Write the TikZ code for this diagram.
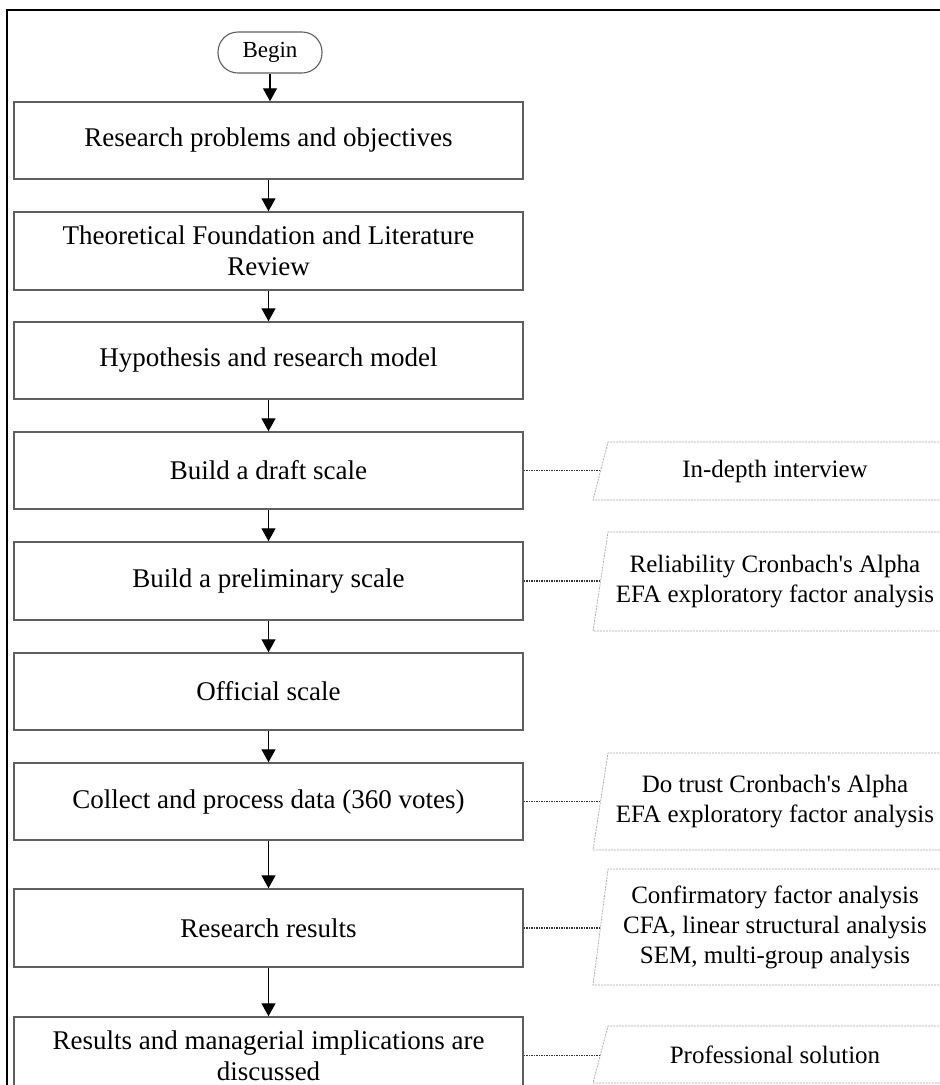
\documentclass[tikz,border=0pt]{standalone}
\usepackage{fontspec}
\setmainfont{Liberation Serif}
\newfontfamily\rawserif{Liberation Serif}
\usetikzlibrary{arrows.meta}
\definecolor{boxline}{RGB}{95,95,95}
\definecolor{paraline}{RGB}{170,170,170}
\definecolor{dotline}{RGB}{50,50,50}
\tikzset{
  stepbox/.style={draw=boxline, line width=1.5pt, minimum width=509pt, minimum height=77pt,
    inner sep=0pt, align=center, font=\fontsize{27}{31}\selectfont},
  flow/.style={draw=black, line width=1.4pt, -{Triangle[length=13pt,width=14pt]}},
  paratext/.style={inner sep=0pt, align=center, font=\rawserif\fontsize{25}{30}\selectfont},
  parashape/.style={draw=paraline, line width=0.7pt, dash pattern=on 2pt off 1pt},
  link/.style={draw=dotline, line width=1.5pt, dash pattern=on 1.5pt off 1pt},
}
\begin{document}
\begin{tikzpicture}[x=1pt,y=-1pt]
\useasboundingbox (0,0) rectangle (940,1085);
% outer frame (only top and left visible)
\draw[line width=1.2pt] (7,1100) -- (7,10) -- (960,10);
% begin terminal
\node[draw=boxline, line width=1.1pt, rounded corners=20pt, minimum width=104pt, minimum height=41pt,
  inner sep=0pt, font=\fontsize{23}{27}\selectfont] (begin) at (270,52.5) {Begin};
% main boxes
\node[stepbox] (b1) at (268.5,140.5) {Research problems and objectives};
\node[stepbox, minimum height=78pt] (b2) at (268.5,251) {Theoretical Foundation and Literature\\Review};
\node[stepbox] (b3) at (268.5,360.5) {Hypothesis and research model};
\node[stepbox] (b4) at (268.5,470.5) {Build a draft scale};
\node[stepbox, minimum height=78pt] (b5) at (268.5,581) {Build a preliminary scale};
\node[stepbox] (b6) at (268.5,691.5) {Official scale};
\node[stepbox] (b7) at (268.5,801.5) {Collect and process data (360 votes)};
\node[stepbox, minimum height=78pt] (b8) at (268.5,928) {Research results};
\node[stepbox] (b9) at (268.5,1055.5) {Results and managerial implications are\\discussed};
% flow arrows
\draw[flow] (begin.south) -- (begin.south |- b1.north);
\foreach \a/\b in {b1/b2,b2/b3,b3/b4,b4/b5,b5/b6,b6/b7,b7/b8,b8/b9}{
  \draw[flow] (\a.south) -- (\b.north);
}
% side notes: parallelograms
\foreach \top/\bot in {442/500, 532/631, 753/850, 869/985, 1026/1083}{
  \draw[parashape] (960,\top) -- (608,\top) -- (593,\bot) -- (960,\bot);
}
\coordinate (pin1) at (600.5,471);
\coordinate (pin2) at (600.5,581.5);
\coordinate (pin3) at (600.5,801.5);
\coordinate (pin4) at (600.5,927);
\coordinate (pin5) at (600.5,1054.5);
\node[paratext] (t1) at (775,471) {In-depth interview};
\node[paratext] (t2) at (775,581.5) {Reliability Cronbach's Alpha\\EFA exploratory factor analysis};
\node[paratext] (t3) at (775,801.5) {Do trust Cronbach's Alpha\\EFA exploratory factor analysis};
\node[paratext] (t4) at (775,927) {Confirmatory factor analysis\\CFA, linear structural analysis\\SEM, multi-group analysis};
\node[paratext] (t5) at (775,1054.5) {Professional solution};
% dotted links
\draw[link] (b4.east) -- (b4.east -| pin1);
\draw[link] (b5.east) -- (b5.east -| pin2);
\draw[link] (b7.east) -- (b7.east -| pin3);
\draw[link] (b8.east) -- (b8.east -| pin4);
\draw[link] (b9.east) -- (b9.east -| pin5);
\end{tikzpicture}
\end{document}
